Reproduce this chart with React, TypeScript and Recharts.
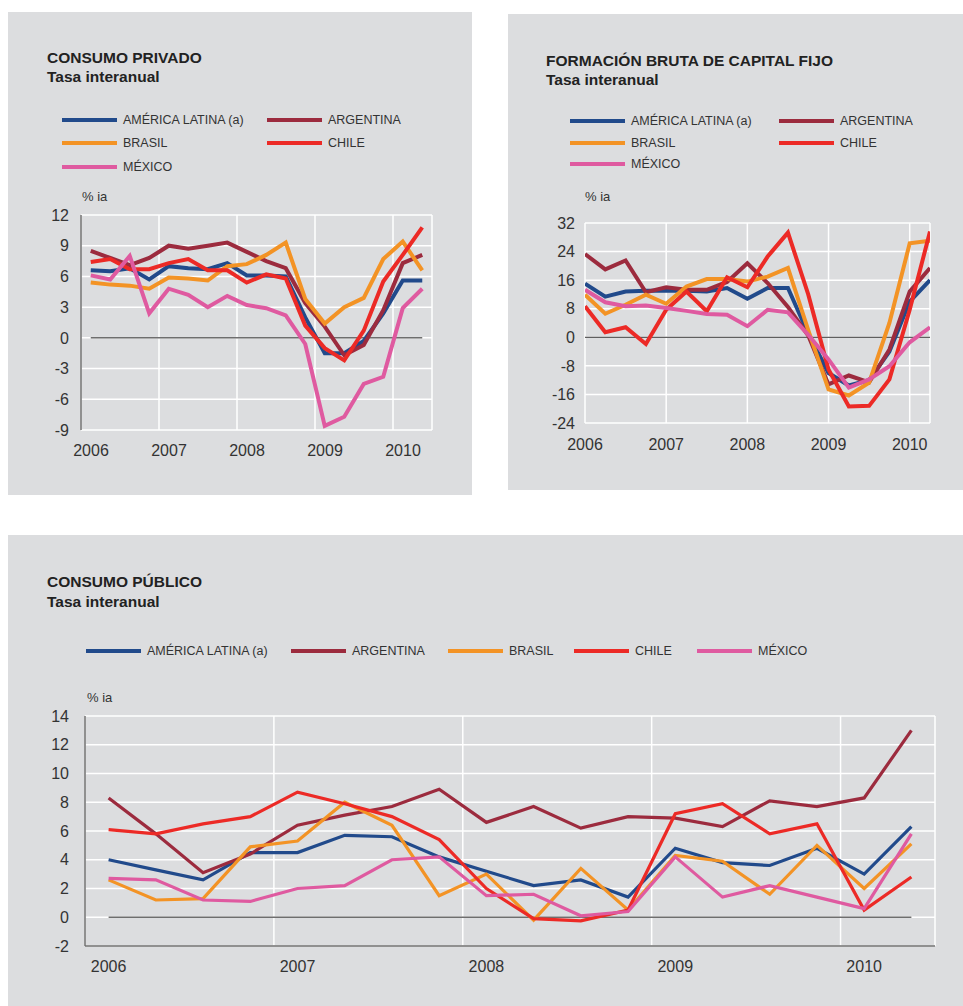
import React from "react";
import { LineChart, Line, XAxis, YAxis, CartesianGrid, ReferenceLine } from "recharts";

// 18 trimestres: 2006-I ... 2010-II
const quarters = [
  "2006-I", "2006-II", "2006-III", "2006-IV",
  "2007-I", "2007-II", "2007-III", "2007-IV",
  "2008-I", "2008-II", "2008-III", "2008-IV",
  "2009-I", "2009-II", "2009-III", "2009-IV",
  "2010-I", "2010-II",
];
const yearTicks = [2006, 2007, 2008, 2009, 2010];

// Consumo privado
const privLatam = [6.6, 6.5, 6.8, 5.7, 7.0, 6.8, 6.7, 7.3, 6.1, 6.1, 6.0, 2.0, -1.5, -1.5, -0.3, 2.4, 5.6, 5.6];
const privArg = [8.5, 7.8, 7.1, 7.8, 9.0, 8.7, 9.0, 9.3, 8.4, 7.5, 6.8, 3.4, 1.1, -1.7, -0.7, 2.7, 7.3, 8.1];
const privBra = [5.4, 5.2, 5.1, 4.8, 5.9, 5.8, 5.6, 7.0, 7.2, 8.1, 9.3, 3.8, 1.4, 3.0, 3.9, 7.7, 9.4, 6.6];
const privChi = [7.4, 7.7, 6.7, 6.7, 7.3, 7.7, 6.6, 6.6, 5.4, 6.2, 5.8, 1.2, -1.0, -2.2, 0.7, 5.5, 8.1, 10.8];
const privMex = [6.1, 5.7, 8.0, 2.4, 4.8, 4.2, 3.0, 4.1, 3.2, 2.9, 2.2, -0.6, -8.6, -7.7, -4.5, -3.8, 2.9, 4.8];
const privTicks = [-9, -6, -3, 0, 3, 6, 9, 12];

// Formación bruta de capital fijo
const fbcfLatam = [15, 11.4, 12.8, 13, 13, 13, 12.8, 13.8, 10.8, 13.8, 13.8, 1.0, -10, -13.5, -12, -4, 10, 16];
const fbcfArg = [23.3, 19, 21.5, 12.6, 14, 13.3, 13.3, 15.5, 20.7, 15.2, 8.5, 0.5, -13.2, -10.7, -12.6, -3.4, 12.8, 19.4];
const fbcfBra = [11.9, 6.6, 9.1, 11.9, 9.4, 14.2, 16.3, 16.3, 15.6, 17, 19.4, 2, -14.6, -16.3, -12.7, 4, 26.3, 27];
const fbcfChi = [8.7, 1.4, 2.8, -1.9, 7.7, 12.8, 7.3, 16.8, 14, 22.6, 29.3, 12, -9, -19.4, -19.2, -11.8, 7.7, 29.6];
const fbcfMex = [13.3, 9.8, 8.7, 8.9, 8.2, 7.4, 6.5, 6.3, 3.1, 7.7, 7, 0.7, -6.2, -14.1, -11.8, -8.1, -1.4, 2.8];
const fbcfTicks = [-24, -16, -8, 0, 8, 16, 24, 32];

// Consumo público
const pubLatam = [4.0, 3.3, 2.6, 4.5, 4.5, 5.7, 5.6, 4.2, 3.2, 2.2, 2.6, 1.4, 4.8, 3.8, 3.6, 4.8, 3.0, 6.3];
const pubArg = [8.3, 5.8, 3.1, 4.4, 6.4, 7.1, 7.7, 8.9, 6.6, 7.7, 6.2, 7.0, 6.9, 6.3, 8.1, 7.7, 8.3, 13.0];
const pubBra = [2.6, 1.2, 1.3, 4.9, 5.3, 8.0, 6.4, 1.5, 3.0, -0.2, 3.4, 0.5, 4.3, 3.9, 1.6, 5.0, 2.0, 5.1];
const pubChi = [6.1, 5.8, 6.5, 7.0, 8.7, 7.9, 7.0, 5.4, 2.0, -0.1, -0.25, 0.5, 7.2, 7.9, 5.8, 6.5, 0.5, 2.8];
const pubMex = [2.7, 2.6, 1.2, 1.1, 2.0, 2.2, 4.0, 4.2, 1.5, 1.6, 0.1, 0.4, 4.2, 1.4, 2.2, 1.4, 0.6, 5.8];
const pubTicks = [-2, 0, 2, 4, 6, 8, 10, 12, 14];

const SERIES = [
  { key: "latam", name: "AMÉRICA LATINA (a)", color: "#214a8b" },
  { key: "arg", name: "ARGENTINA", color: "#9c2b3e" },
  { key: "bra", name: "BRASIL", color: "#f39325" },
  { key: "chi", name: "CHILE", color: "#ec2a26" },
  { key: "mex", name: "MÉXICO", color: "#df5aa0" },
];

const FONT = '"Liberation Sans", Arial, Helvetica, sans-serif';
const BG = "#dcdddf";
const INK = "#333333";
const AXIS = "#6e6e6e";

// quarter position on a numeric year axis; offset 0.5 = mid-quarter, 0 = start
function buildRows(series: number[][], offset: number) {
  return quarters.map((q, i) => {
    const row: any = { q, x: 2006 + Math.floor(i / 4) + (i % 4 + offset) / 4 };
    SERIES.forEach((s, j) => {
      row[s.key] = series[j][i];
    });
    return row;
  });
}

const privRows = buildRows([privLatam, privArg, privBra, privChi, privMex], 0.5);
const fbcfRows = buildRows([fbcfLatam, fbcfArg, fbcfBra, fbcfChi, fbcfMex], 0);
const pubRows = buildRows([pubLatam, pubArg, pubBra, pubChi, pubMex], 0.5);

function Label({ x, y, size, bold, children }: any) {
  return (
    <div
      style={{
        position: "absolute",
        left: x,
        top: y - size * 0.6,
        fontSize: size,
        lineHeight: `${size * 1.2}px`,
        fontWeight: bold ? 700 : 400,
        color: bold ? "#222" : INK,
        whiteSpace: "nowrap",
        fontFamily: FONT,
      }}
    >
      {children}
    </div>
  );
}

function Legend({ items }: { items: number[][] }) {
  return (
    <>
      {SERIES.map((s, i) => (
        <React.Fragment key={s.key}>
          <div
            style={{
              position: "absolute",
              left: items[i][0],
              top: items[i][1] - 2,
              width: 55,
              height: 4,
              background: s.color,
            }}
          />
          <Label x={items[i][0] + 61} y={items[i][1]} size={12.5}>
            {s.name}
          </Label>
        </React.Fragment>
      ))}
    </>
  );
}

function YearTick({ x, y, payload, shift }: any) {
  return (
    <text x={x + shift} y={y} dy="0.71em" textAnchor="middle" fontSize={16} fill={INK} fontFamily={FONT}>
      {payload.value}
    </text>
  );
}

function SeriesChart({
  rows, left, top, width, height, margin, yWidth, yTicks, xMax, shift, strokeWidth,
  yAxisLine, xAxisLine, yGap, xGap, zeroFull,
}: any) {
  const first = rows[0].x;
  const last = rows[rows.length - 1].x;
  return (
    <div style={{ position: "absolute", left, top }}>
      <LineChart width={width} height={height} data={rows} margin={margin}>
        <CartesianGrid stroke="#ffffff" strokeWidth={1.5} />
        <XAxis
          dataKey="x"
          type="number"
          domain={[2006, xMax]}
          ticks={yearTicks}
          allowDataOverflow
          axisLine={xAxisLine ? { stroke: AXIS, strokeWidth: 1.5 } : false}
          tickLine={false}
          tickSize={0}
          tickMargin={xGap}
          height={34}
          tick={(p: any) => <YearTick {...p} shift={shift} />}
        />
        <YAxis
          type="number"
          domain={[yTicks[0], yTicks[yTicks.length - 1]]}
          ticks={yTicks}
          width={yWidth}
          axisLine={yAxisLine ? { stroke: AXIS, strokeWidth: 1.5 } : false}
          tickLine={false}
          tickSize={0}
          tickMargin={yGap}
          tick={{ fontSize: 16, fill: INK, fontFamily: FONT }}
        />
        <ReferenceLine
          segment={zeroFull ? [{ x: 2006, y: 0 }, { x: xMax, y: 0 }] : [{ x: first, y: 0 }, { x: last, y: 0 }]}
          stroke={zeroFull ? "#333" : AXIS}
          strokeWidth={zeroFull ? 1 : 1.5}
        />
        {SERIES.map((s) => (
          <Line
            key={s.key}
            dataKey={s.key}
            name={s.name}
            stroke={s.color}
            strokeWidth={strokeWidth}
            dot={false}
            activeDot={false}
            type="linear"
            isAnimationActive={false}
          />
        ))}
      </LineChart>
    </div>
  );
}

export default function App() {
  return (
    <div style={{ position: "absolute", left: 0, top: 0, width: 963, height: 1006, background: "#fff", fontFamily: FONT }}>
      {/* Consumo privado */}
      <div style={{ position: "absolute", left: 8, top: 12, width: 464, height: 483, background: BG }} />
      <Label x={47} y={58} size={15.5} bold>CONSUMO PRIVADO</Label>
      <Label x={47} y={77} size={15.5} bold>Tasa interanual</Label>
      <Legend items={[[62, 120], [267, 120], [62, 143], [267, 143], [62, 167]]} />
      <Label x={82} y={197} size={13}>% ia</Label>
      <SeriesChart
        rows={privRows}
        left={30}
        top={190}
        width={420}
        height={280}
        margin={{ top: 25, right: 18, bottom: 6, left: 0 }}
        yWidth={51}
        yTicks={privTicks}
        xMax={2010.5}
        shift={10}
        strokeWidth={4}
        yAxisLine
        xAxisLine={false}
        yGap={12}
        xGap={15}
        zeroFull={false}
      />

      {/* Formación bruta de capital fijo */}
      <div style={{ position: "absolute", left: 508, top: 14, width: 455, height: 476, background: BG }} />
      <Label x={546} y={61} size={15.5} bold>FORMACIÓN BRUTA DE CAPITAL FIJO</Label>
      <Label x={546} y={80} size={15.5} bold>Tasa interanual</Label>
      <Legend items={[[570, 121], [779, 121], [570, 143], [779, 143], [570, 164]]} />
      <Label x={585} y={197} size={13}>% ia</Label>
      <SeriesChart
        rows={fbcfRows}
        left={530}
        top={195}
        width={420}
        height={270}
        margin={{ top: 28, right: 20, bottom: 8, left: 0 }}
        yWidth={55}
        yTicks={fbcfTicks}
        xMax={2010.25}
        shift={0}
        strokeWidth={4}
        yAxisLine={false}
        xAxisLine={false}
        yGap={10}
        xGap={16}
        zeroFull
      />

      {/* Consumo público */}
      <div style={{ position: "absolute", left: 8, top: 535, width: 955, height: 471, background: BG }} />
      <Label x={47} y={582} size={15.5} bold>CONSUMO PÚBLICO</Label>
      <Label x={47} y={602} size={15.5} bold>Tasa interanual</Label>
      <Legend items={[[86, 651], [291, 651], [448, 651], [574, 651], [697, 651]]} />
      <Label x={87} y={698} size={13}>% ia</Label>
      <SeriesChart
        rows={pubRows}
        left={30}
        top={690}
        width={920}
        height={300}
        margin={{ top: 26, right: 15, bottom: 10, left: 0 }}
        yWidth={55}
        yTicks={pubTicks}
        xMax={2010.5}
        shift={23.6}
        strokeWidth={3.2}
        yAxisLine
        xAxisLine
        yGap={16}
        xGap={15}
        zeroFull={false}
      />
    </div>
  );
}
